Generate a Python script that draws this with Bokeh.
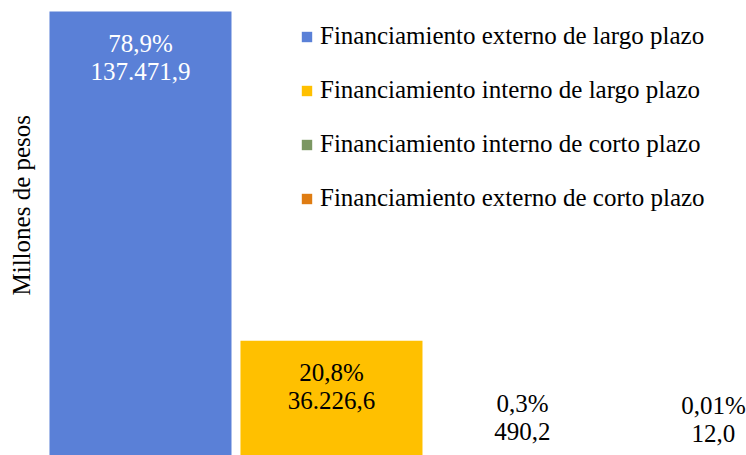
from bokeh.plotting import figure
from bokeh.models import ColumnDataSource, Title
from bokeh.embed import file_html
from bokeh.resources import INLINE
from bokeh.core.properties import value

categories = ["Financiamiento externo de largo plazo",
              "Financiamiento interno de largo plazo",
              "Financiamiento interno de corto plazo",
              "Financiamiento externo de corto plazo"]
amounts = [137471.9, 36226.6, 490.2, 12.0]
percent_labels = ["78,9%", "20,8%", "0,3%", "0,01%"]
colors = ["#5A80D7", "#FFC000", "#7B9762", "#DF7C12"]
y_title = "Millones  de pesos"

FONT = "Liberation Serif, Times New Roman, serif"

def fmt(v):
    s = f"{v:,.1f}"
    return s.replace(",", "X").replace(".", ",").replace("X", ".")

maxv = max(amounts)
small = [v < 0.05 * maxv for v in amounts]
SIGN = -1  # text glyph y_offset: positive moves down
off_pct = [SIGN * (53 if s else -32) for s in small]
off_val = [SIGN * (25 if s else -60) for s in small]
txt_col = ["black" if s else ("white" if i == 0 else "black") for i, s in enumerate(small)]

src = ColumnDataSource(dict(
    x=list(range(len(categories))),
    top=amounts,
    name=categories,
    color=colors,
    pct=percent_labels,
    val=[fmt(v) for v in amounts],
    off_pct=off_pct,
    off_val=off_val,
    tc=txt_col,
))

p = figure(width=746, height=455, x_range=(-0.534, 3.173), y_range=(923, 140855),
           output_backend="svg", toolbar_location=None,
           min_border_left=38, min_border_right=0, min_border_top=0, min_border_bottom=0)

p.vbar(x="x", top="top", bottom=0, width=0.953, fill_color="color", line_color=None,
       source=src, legend_field="name")

p.text(x="x", y="top", text="pct", y_offset="off_pct", source=src,
       text_align="center", text_baseline="middle", text_color="tc",
       text_font=value(FONT), text_font_size="25px")
p.text(x="x", y="top", text="val", y_offset="off_val", source=src,
       text_align="center", text_baseline="middle", text_color="tc",
       text_font=value(FONT), text_font_size="25px")

p.xaxis.visible = False
p.yaxis.visible = False
p.grid.visible = False
p.outline_line_color = None

p.add_layout(Title(text=y_title, align="left", offset=160, standoff=8,
                   text_font=FONT, text_font_size="25px", text_font_style="normal",
                   text_color="black"), "left")

lg = p.legend[0]
lg.location = (262, 243)
lg.padding = 0
lg.margin = 0
lg.spacing = 26
lg.glyph_width = 13
lg.glyph_height = 13
lg.label_standoff = 7
lg.label_text_font = FONT
lg.label_text_font_size = "25px"
lg.label_text_color = "black"
lg.background_fill_alpha = 0
lg.border_line_color = None

open("out.html", "w").write(file_html(p, INLINE))
